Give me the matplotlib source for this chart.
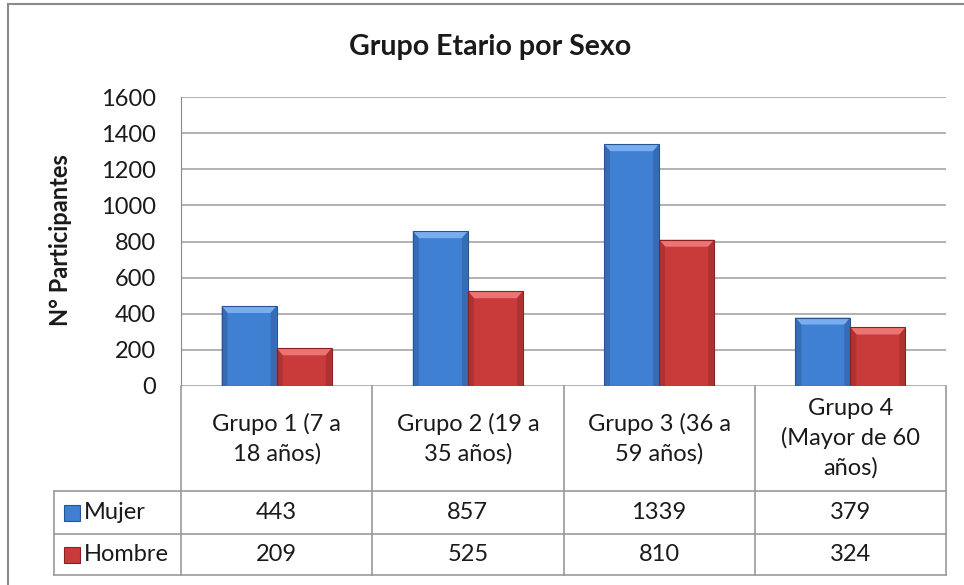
import matplotlib
matplotlib.use("Agg")
import matplotlib.pyplot as plt
from matplotlib.patches import Polygon, Rectangle
from matplotlib.lines import Line2D
import matplotlib.transforms as mtransforms
import numpy as np

plt.rcParams['font.family'] = ['Lato', 'DejaVu Sans']

# data
grupos = ["Grupo 1 (7 a\n18 años)", "Grupo 2 (19 a\n35 años)",
          "Grupo 3 (36 a\n59 años)", "Grupo 4\n(Mayor de 60\naños)"]
series = ["Mujer", "Hombre"]
mujer = [443, 857, 1339, 379]
hombre = [209, 525, 810, 324]
yticks = [0, 200, 400, 600, 800, 1000, 1200, 1400, 1600]

W, H = 964, 585
fig = plt.figure(figsize=(W / 100, H / 100), dpi=100)
fig.patch.set_facecolor("white")
TXT = "#1a1a1a"
FS = 17


def fx(px):
    return px / W


def fy(py):
    return 1 - py / H


# outer chart border
fig.add_artist(Line2D([fx(8), fx(8)], [fy(4), fy(590)], color="#8a8a8a", lw=1.5))
fig.add_artist(Line2D([fx(8), fx(970)], [fy(4), fy(4)], color="#8a8a8a", lw=1.5))

ax = fig.add_axes([fx(181), fy(386), fx(946) - fx(181), fy(97) - fy(386)])
ax.set_xlim(-0.5, 3.5)
ax.set_ylim(0, 1600)
ax.set_yticks(yticks)
ax.set_yticklabels([str(t) for t in yticks], fontsize=FS, color=TXT)
ax.tick_params(axis="y", length=0, pad=18)
ax.set_xticks([])
for s in ["top", "right", "bottom"]:
    ax.spines[s].set_visible(False)
ax.spines["left"].set_color("#8a8a8a")
ax.grid(axis="y", color="#a6a6a6", lw=1.2)
ax.set_axisbelow(True)

fig.text(fx(61), fy(240), "N° Participantes", rotation=90, ha="center", va="center",
         fontsize=17, fontweight="bold", color=TXT)
fig.text(fx(490), fy(47), "Grupo Etario por Sexo", ha="center", va="center",
         fontsize=20.5, fontweight="bold", color=TXT)

x = np.arange(len(grupos))
bw = 0.288
styles = {
    "Mujer": dict(base="#4080d2", top="#78aef0", side="#3468b0", bottom="#285590"),
    "Hombre": dict(base="#c93b3b", top="#ec7474", side="#a83030", bottom="#862222"),
}

bars_m = ax.bar(x - bw / 2, mujer, bw, color=styles["Mujer"]["base"], zorder=3)
bars_h = ax.bar(x + bw / 2, hombre, bw, color=styles["Hombre"]["base"], zorder=3)

# bevel look
bx = 6 / 190.75
by = 7 / 289 * 1600
for bars, key in [(bars_m, "Mujer"), (bars_h, "Hombre")]:
    st = styles[key]
    for b in bars:
        x0, x1 = b.get_x(), b.get_x() + b.get_width()
        y0, y1 = 0, b.get_height()
        ax.add_patch(Polygon([(x0, y1), (x1, y1), (x1 - bx, y1 - by), (x0 + bx, y1 - by)],
                             closed=True, color=st["top"], lw=0, zorder=4))
        ax.add_patch(Polygon([(x0, y0), (x0, y1), (x0 + bx, y1 - by), (x0 + bx, y0)],
                             closed=True, color=st["side"], lw=0, zorder=4, alpha=0.8))
        ax.add_patch(Polygon([(x1, y0), (x1, y1), (x1 - bx, y1 - by), (x1 - bx, y0)],
                             closed=True, color=st["side"], lw=0, zorder=4, alpha=0.8))
        ax.add_patch(Rectangle((x0, y0), x1 - x0, y1, fill=False,
                               ec=st["bottom"], lw=0.8, zorder=5))

# data table below the plot
tr = mtransforms.blended_transform_factory(ax.transData, fig.transFigure)
line_kw = dict(color="#9a9a9a", lw=1.2)
rows_y = [386, 491, 534, 575]
for i in range(len(grupos) + 1):
    xi = i - 0.5
    fig.add_artist(Line2D([xi, xi], [fy(rows_y[0]), fy(rows_y[-1])], transform=tr, **line_kw))
for yy in rows_y[1:]:
    fig.add_artist(Line2D([fx(54), fx(946)], [fy(yy), fy(yy)], **line_kw))
fig.add_artist(Line2D([fx(54), fx(54)], [fy(rows_y[1]), fy(rows_y[-1])], **line_kw))

for i, g in enumerate(grupos):
    fig.text(i, fy((rows_y[0] + rows_y[1]) / 2), g, transform=tr, ha="center",
             va="center", fontsize=FS, color=TXT, linespacing=1.45)
    fig.text(i, fy((rows_y[1] + rows_y[2]) / 2), str(mujer[i]), transform=tr,
             ha="center", va="center", fontsize=FS, color=TXT)
    fig.text(i, fy((rows_y[2] + rows_y[3]) / 2), str(hombre[i]), transform=tr,
             ha="center", va="center", fontsize=FS, color=TXT)

for j, name in enumerate(series):
    yc = (rows_y[j + 1] + rows_y[j + 2]) / 2
    st = styles[name]
    fig.add_artist(Rectangle((fx(64), fy(yc + 8)), fx(16), fy(0) - fy(16),
                             fc=st["base"], ec=st["bottom"], lw=0.8))
    fig.text(fx(84), fy(yc), name, ha="left", va="center", fontsize=FS, color=TXT)

fig.savefig("out.png", dpi=100)
